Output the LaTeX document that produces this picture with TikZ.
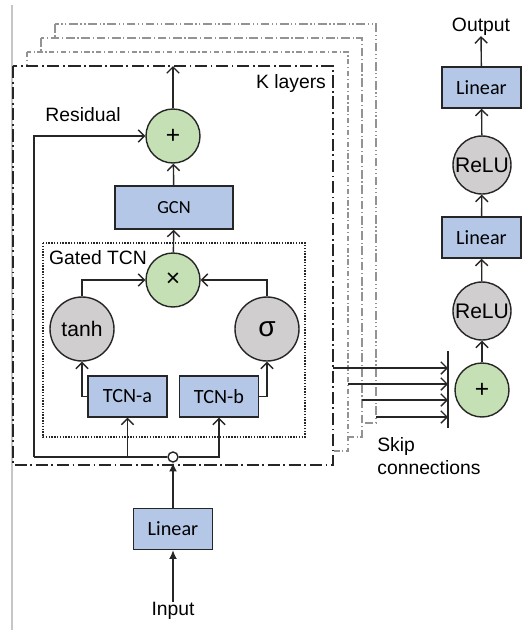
\documentclass[tikz,border=0pt]{standalone}
\usepackage{fontspec}
\setmainfont{Liberation Sans}
\newfontfamily\carlito{Carlito}
\usetikzlibrary{arrows.meta}
\definecolor{lblue}{RGB}{180,199,231}
\definecolor{lgreen}{RGB}{197,224,180}
\definecolor{lgrey}{RGB}{208,206,206}
\definecolor{edge}{RGB}{38,38,38}
\tikzset{
  blk/.style={draw=edge,line width=0.8pt,fill=lblue,minimum width=1.58cm,minimum height=0.82cm,inner sep=0pt,font=\carlito\fontsize{11.5}{13}\selectfont},
  opc/.style={circle,draw=edge,line width=0.8pt,fill=lgreen,minimum size=1.08cm,inner sep=0pt,font=\fontsize{14}{16}\selectfont},
  act/.style={circle,draw=edge,line width=0.8pt,fill=lgrey,minimum size=1.28cm,inner sep=0pt,font=\fontsize{12}{14}\selectfont},
  conn/.style={draw=edge,line width=0.8pt,-{Straight Barb[length=3.5pt,width=7pt]}},
  link/.style={draw=edge,line width=0.8pt},
  inarr/.style={draw=edge,line width=0.8pt,-{Latex[length=5pt,width=4.5pt]}},
  lab/.style={font=\fontsize{11}{13}\selectfont,inner sep=0pt},
  layer/.style={draw=edge,line width=1.2pt,fill=white,dash pattern=on 7pt off 2pt on 1pt off 2pt},
  ghost/.style={draw=gray!85,line width=0.8pt,fill=white}
}
\begin{document}
\begin{tikzpicture}[x=0.02cm,y=-0.02cm]
\useasboundingbox (0,0) rectangle (523,630);
\draw[gray!45,line width=0.6pt] (12,5) -- (12,630);
\draw[ghost,dash pattern=on 5pt off 1.5pt on 0.7pt off 1.5pt on 0.7pt off 1.5pt] (55,24) rectangle (376,423);
\draw[ghost,dash pattern=on 5pt off 1.5pt on 0.7pt off 1.5pt] (41,38) rectangle (362,437);
\draw[ghost,dash pattern=on 3pt off 1.5pt on 0.7pt off 1.5pt] (27,52) rectangle (348,451);
\draw[layer] (13,66) rectangle (333,465);
\draw[draw=edge,line width=0.6pt,dash pattern=on 0.8pt off 0.8pt] (43,243) rectangle (305,437);

\node[lab] (klab) at (291,83) {K layers};
\node[lab] (rlab) at (83,115) {Residual};
\node[lab] (glab) at (98,258) {Gated TCN};
\node[lab] (inp) at (173,611) {Input};
\node[lab] (out) at (481,27) {Output};
\node[lab,align=left,anchor=north west] (skip) at (377,437) {Skip\\connections};

\node[blk] (lin0) at (173,529) {Linear};
\node[circle,draw=edge,fill=white,line width=0.8pt,minimum size=0.2cm,inner sep=0pt] (split) at (173,457) {};
\node[blk] (tcna) at (127.5,396.5) {TCN-a};
\node[blk] (tcnb) at (219,396.5) {TCN-b};
\node[act] (tanh) at (82,329) {tanh};
\node[act,font=\fontsize{16}{18}\selectfont] (sig) at (267,329) {σ};
\node[opc] (mul) at (173,280) {×};
\node[blk,minimum width=2.36cm,minimum height=0.86cm,font=\carlito\fontsize{10.5}{12}\selectfont] (gcn) at (174,207.5) {GCN};
\node[opc] (add) at (173,136) {+};
\coordinate (ktop) at (173,66);
\coordinate (rl) at (34,457);

\draw[inarr] (inp) -- (lin0);
\draw[inarr] (lin0) -- (split);
\draw[link] (split.west) -- (rl);
\draw[conn] (rl) |- (add);
\draw[conn] (split.east) -| (tcnb);
\draw[conn] (tcna |- split) -- (tcna);
\draw[conn] (tcna.west) -| (tanh);
\draw[conn] (tcnb.east) -| (sig);
\draw[conn] (tanh) |- (mul);
\draw[conn] (sig) |- (mul);
\draw[conn] (mul) -- (gcn);
\draw[conn] (gcn) -- (add);
\draw[conn] (add) -- (ktop);

\node[opc] (add2) at (482,390) {+};
\node[act,minimum size=1.16cm] (relu1) at (482,311) {ReLU};
\node[blk] (lin1) at (481.5,237.5) {Linear};
\node[act,minimum size=1.16cm] (relu2) at (482,165) {ReLU};
\node[blk] (lin2) at (481.5,87.5) {Linear};
\draw[conn] (add2) -- (relu1);
\draw[conn] (relu1) -- (lin1);
\draw[conn] (lin1) -- (relu2);
\draw[conn] (relu2) -- (lin2);
\draw[conn] (lin2) -- (out);

\coordinate (bart) at (448,351);
\coordinate (barb) at (448,428);
\draw[link] (bart) -- (barb);
\coordinate (s0) at (333,368);
\coordinate (s1) at (348,384);
\coordinate (s2) at (362,400);
\coordinate (s3) at (376,417);
\foreach \s in {0,...,3} \draw[conn] (s\s) -- (s\s -| bart);
\end{tikzpicture}
\end{document}
